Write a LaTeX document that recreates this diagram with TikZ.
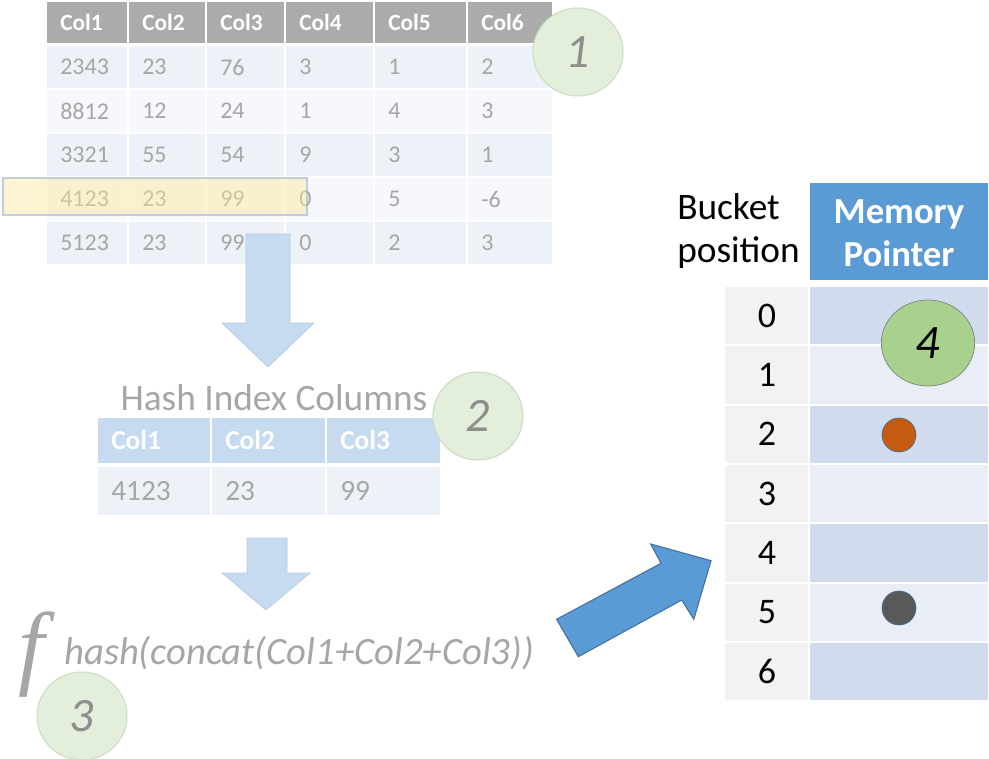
\documentclass[tikz,border=0pt]{standalone}
\usepackage{fontspec}
\setmainfont{Carlito}
\newfontfamily\fnsym{Liberation Serif}
\usetikzlibrary{shapes.geometric}

\definecolor{hdrgray}{HTML}{ABABAB}
\definecolor{rowA}{HTML}{EDF1F8}
\definecolor{rowB}{HTML}{F7F8FB}
\definecolor{fadetxt}{HTML}{A6A6A6}
\definecolor{badgetxt}{HTML}{8E8E8E}
\definecolor{paleblue}{HTML}{C6DBEF}
\definecolor{palebluedark}{HTML}{B5CCE4}
\definecolor{mintfill}{HTML}{E3EFDB}
\definecolor{mintline}{HTML}{CCDCC2}
\definecolor{hlfill}{HTML}{FFE699}
\definecolor{hlline}{HTML}{8FAADC}
\definecolor{accent}{HTML}{5B9BD5}
\definecolor{accentdark}{HTML}{41719C}
\definecolor{bucketgray}{HTML}{F2F2F2}
\definecolor{ptrA}{HTML}{D0DCEE}
\definecolor{ptrB}{HTML}{E9EEF6}
\definecolor{greenfill}{HTML}{A9D18E}
\definecolor{greenline}{HTML}{7F7F7F}
\definecolor{rust}{HTML}{C55A11}
\definecolor{darkdot}{HTML}{595959}

\tikzset{
  hdrtext/.style={anchor=west, inner sep=0pt, text=white, font=\bfseries\fontsize{17.5}{20}\selectfont},
  celltext/.style={anchor=west, inner sep=0pt, text=fadetxt, font=\fontsize{18}{21}\selectfont},
  keyhdr/.style={anchor=west, inner sep=0pt, text=white, font=\bfseries\fontsize{20.5}{24}\selectfont},
  keytext/.style={anchor=west, inner sep=0pt, text=fadetxt, font=\fontsize{22}{25}\selectfont},
  stepbadge/.style={ellipse, minimum width=67.5pt, minimum height=66pt, inner sep=0pt,
    fill=mintfill, draw=mintline, line width=0.8pt, text=badgetxt,
    font=\itshape\fontsize{36}{38}\selectfont},
  fadearrow/.style={fill=paleblue, draw=palebluedark, line width=0.5pt},
  bucketnum/.style={inner sep=0pt, text=black, font=\fontsize{27}{30}\selectfont},
  ptrdot/.style={circle, minimum size=25.5pt, inner sep=0pt, draw=accentdark, line width=0.5pt},
}

\begin{document}
\begin{tikzpicture}[x=0.75pt,y=-0.75pt]
\useasboundingbox (0,0) rectangle (989,759);

% ---------- source table ----------
\foreach \t [count=\c] in {Col1,Col2,Col3,Col4,Col5,Col6} {
  \pgfmathsetmacro\xa{{46,128,206,285,374,467,553}[\c-1]}
  \pgfmathsetmacro\xb{{46,128,206,285,374,467,553}[\c]}
  \fill[hdrgray] (\xa+1,2) rectangle (\xb-1,43);
  \node[hdrtext] (h\c) at (\xa+14,22.5) {\t};
}
\foreach \r/\ya/\yb/\rc/\vals in {
    1/45/89/rowA/{2343,23,76,3,1,2},
    2/89/133/rowB/{8812,12,24,1,4,3},
    3/133/177/rowA/{3321,55,54,9,3,1},
    4/177/221/rowB/{4123,23,99,0,5,-6},
    5/221/265/rowA/{5123,23,99,0,2,3}} {
  \foreach \v [count=\c] in \vals {
    \pgfmathsetmacro\xa{{46,128,206,285,374,467,553}[\c-1]}
    \pgfmathsetmacro\xb{{46,128,206,285,374,467,553}[\c]}
    \fill[\rc] (\xa+1,\ya+1) rectangle (\xb-1,\yb-1);
    \node[celltext] (r\r c\c) at (\xa+14,{(\ya+\yb)/2}) {\v};
  }
}

% highlighted key part of row 4
\path[fill=hlfill, fill opacity=0.45, draw=hlline, draw opacity=0.55, line width=0.8pt]
  (3,178) rectangle (307,215);

\node[stepbadge] (b1) at (578,52) {1};

% arrow down to the key columns
\path[fadearrow] (246,234) -- (290,234) -- (290,323) -- (314,323) -- (268,367)
  -- (222,323) -- (246,323) -- cycle;

% ---------- hash key columns ----------
\node[inner sep=0pt, text=fadetxt, font=\fontsize{28}{32}\selectfont] (keytitle) at (274,398) {Hash Index Columns};
\foreach \t/\v [count=\c] in {Col1/4123,Col2/23,Col3/99} {
  \pgfmathsetmacro\xa{{97,211,326,441}[\c-1]}
  \pgfmathsetmacro\xb{{97,211,326,441}[\c]}
  \fill[paleblue] (\xa+1,418) rectangle (\xb-1,463);
  \fill[rowA] (\xa+1,467) rectangle (\xb-1,515);
  \node[keyhdr] (k\c) at (\xa+14,440.5) {\t};
  \node[keytext] (kv\c) at (\xa+14,491) {\v};
}
\node[stepbadge] (b2) at (478,416) {2};

% arrow down to the hash function
\path[fadearrow] (247,538) -- (287,538) -- (287,573) -- (310,573) -- (266,610)
  -- (222,573) -- (247,573) -- cycle;

% ---------- hash function ----------
\node[inner sep=0pt, text=fadetxt, font=\fnsym\itshape\fontsize{70}{70}\selectfont] (fsym) at (31,655) {f};
\node[anchor=west, inner sep=0pt, text=fadetxt, font=\itshape\fontsize{29}{32}\selectfont] (hashfn) at (64,653)
  {hash(concat(Col1+Col2+Col3))};
\node[stepbadge] (b3) at (82,716) {3};

% arrow into the bucket table
\path[fill=accent, draw=accentdark, line width=0.8pt]
  (556.6,619.3) -- (661,563.3) -- (650.7,544) -- (711,560.7) -- (693.8,619.3)
  -- (681.7,600) -- (578.3,656.7) -- cycle;

% ---------- bucket table ----------
\node[anchor=west, align=left, inner sep=0pt, text=black, font=\fontsize{28}{32}\selectfont] (bucketlbl)
  at (677,231) {Bucket\\position};
\fill[accent] (810,183) rectangle (988,280);
\node[align=center, inner sep=0pt, text=white, font=\bfseries\fontsize{27.5}{32}\selectfont] (memhdr)
  at (899,233) {Memory\\Pointer};
\foreach \i in {0,...,6} {
  \pgfmathsetmacro\ya{286+59.3*\i}
  \pgfmathsetmacro\yb{286+59.3*(\i+1)}
  \pgfmathparse{mod(\i,2)==0 ? "ptrA" : "ptrB"}
  \edef\pc{\pgfmathresult}
  \fill[bucketgray] (725,\ya+1) rectangle (808,\yb-1);
  \fill[\pc] (810,\ya+1) rectangle (988,\yb-1);
  \node[bucketnum] (n\i) at (767,{(\ya+\yb)/2}) {\i};
}
\node[ptrdot, fill=rust] (p2) at (899,435) {};
\node[ptrdot, fill=darkdot] (p5) at (899,608) {};
\node[ellipse, minimum width=70pt, minimum height=64.5pt, inner sep=0pt, fill=greenfill,
  draw=greenline, line width=0.5pt, text=black, font=\itshape\fontsize{36}{38}\selectfont] (b4)
  at (928,343) {4};
\end{tikzpicture}
\end{document}
